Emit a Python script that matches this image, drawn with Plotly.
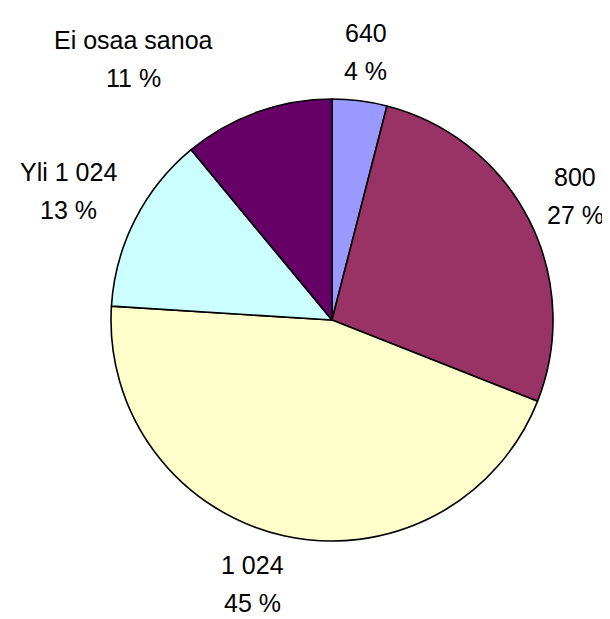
import math
import plotly.graph_objects as go

# vastausvaihtoehdot ja osuudet (%)
labels = ['640', '800', '1 024', 'Yli 1 024', 'Ei osaa sanoa']
values = [4, 27, 45, 13, 11]
colors = ['#9999FF', '#993366', '#FFFFCC', '#CCFFFF', '#660066']

# page is 610x619, the html body adds an 8px margin
OFF = 8
W, H = 610 - OFF, 619 - OFF
CX, CY, R = 332 - OFF, 320 - OFF, 221   # pie centre/radius in figure pixels
FONT = dict(family='Liberation Sans, Arial', size=25, color='#000000')

dom_x = [(CX - R) / W, (CX + R) / W]
dom_y = [(H - CY - R) / H, (H - CY + R) / H]

fig = go.Figure(go.Pie(
    labels=labels,
    values=values,
    sort=False,
    direction='clockwise',
    rotation=0,
    marker=dict(colors=colors, line=dict(color='black', width=1.6)),
    textinfo='none',
    hoverinfo='label+percent',
    domain=dict(x=dom_x, y=dom_y),
))

# label nudges in px (Excel placed some labels off the radial line)
nudge = {'Ei osaa sanoa': (-98, -17), '1 024': (-20, 4), 'Yli 1 024': (6, -9)}

total = sum(values)
cum = 0
for lab, val in zip(labels, values):
    mid = (cum + val / 2) / total * 2 * math.pi
    cum += val
    ux, uy = math.sin(mid), math.cos(mid)
    pct = f'{round(val / total * 100)} %'
    w = max(len(lab), len(pct)) * 13.5
    h = 70
    d = R + 12 + w / 2 * abs(ux) + h / 2 * abs(uy)
    px = CX + d * ux
    py = (H - CY) + d * uy
    dx, dy = nudge.get(lab, (0, 0))
    px += dx
    py += dy
    for txt, off in ((lab, 19), (pct, -19)):
        fig.add_annotation(
            x=px / W, y=(py + off) / H, xref='paper', yref='paper',
            text=txt, showarrow=False, font=FONT,
            xanchor='center', yanchor='middle',
        )

fig.update_layout(
    width=W, height=H,
    showlegend=False,
    margin=dict(l=0, r=0, t=0, b=0),
    paper_bgcolor='white',
)

fig.write_html('out.html')
